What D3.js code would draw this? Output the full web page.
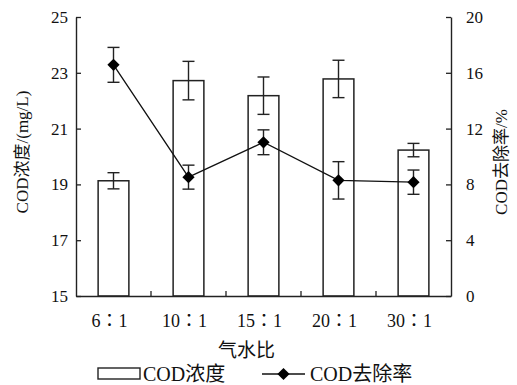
<!DOCTYPE html>
<html>
<head>
<meta charset="utf-8">
<script src="https://cdn.jsdelivr.net/npm/d3@7"></script>
<style>
  body { margin: 0; background: #fff; }
  svg text { font-family: "Liberation Serif", "Times New Roman", "Noto Sans CJK SC", serif; fill: #111; }
</style>
</head>
<body>
<script>
// data
var ratios = ["6：1", "10：1", "15：1", "20：1", "30：1"];
var codConc = [19.13, 22.72, 22.18, 22.78, 20.23];
var codConcErr = [0.29, 0.69, 0.67, 0.67, 0.24];
var codRemoval = [16.57, 8.52, 11.02, 8.29, 8.16];
var codRemovalErr = [1.25, 0.86, 0.89, 1.34, 0.87];
var leftTicks = [15, 17, 19, 21, 23, 25];
var rightTicks = [0, 4, 8, 12, 16, 20];

var margin = {top: 17, right: 66, bottom: 89, left: 76},
    width = 517 - margin.left - margin.right,
    height = 385 - margin.top - margin.bottom;

var svg = d3.select("body").append("svg")
    .attr("width", 517)
    .attr("height", 385)
  .append("g")
    .attr("transform", "translate(" + margin.left + "," + margin.top + ")");

var x = d3.scaleBand().domain(ratios).range([0, width]).padding(0);
var yL = d3.scaleLinear().domain([15, 25]).range([height, 0]);
var yR = d3.scaleLinear().domain([0, 20]).range([height, 0]);

var barW = x.bandwidth() * 0.41;
var cap = 6;

var data = ratios.map(function (r, i) {
  return {r: r, c: codConc[i], ce: codConcErr[i], p: codRemoval[i], pe: codRemovalErr[i]};
});

// bars
svg.selectAll(".bar")
    .data(data)
  .enter().append("rect")
    .attr("class", "bar")
    .attr("x", function (d) { return x(d.r) + x.bandwidth() / 2 - barW / 2; })
    .attr("y", function (d) { return yL(d.c); })
    .attr("width", barW)
    .attr("height", function (d) { return height - yL(d.c); })
    .style("fill", "#fff")
    .style("stroke", "#222")
    .style("stroke-width", 1.5);

function errBars(cls, scale, val, err) {
  var g = svg.selectAll("." + cls)
      .data(data)
    .enter().append("g")
      .attr("class", cls)
      .style("stroke", "#222")
      .style("stroke-width", 1.4);
  g.append("line")
      .attr("x1", function (d) { return x(d.r) + x.bandwidth() / 2; })
      .attr("x2", function (d) { return x(d.r) + x.bandwidth() / 2; })
      .attr("y1", function (d) { return scale(d[val] - d[err]); })
      .attr("y2", function (d) { return scale(d[val] + d[err]); });
  [1, -1].forEach(function (s) {
    g.append("line")
        .attr("x1", function (d) { return x(d.r) + x.bandwidth() / 2 - cap; })
        .attr("x2", function (d) { return x(d.r) + x.bandwidth() / 2 + cap; })
        .attr("y1", function (d) { return scale(d[val] + s * d[err]); })
        .attr("y2", function (d) { return scale(d[val] + s * d[err]); });
  });
}
errBars("errc", yL, "c", "ce");

// removal line
var line = d3.line()
    .x(function (d) { return x(d.r) + x.bandwidth() / 2; })
    .y(function (d) { return yR(d.p); });

svg.append("path")
    .datum(data)
    .attr("d", line)
    .style("fill", "none")
    .style("stroke", "#111")
    .style("stroke-width", 1.3);

errBars("errp", yR, "p", "pe");

var diamond = d3.symbol().type(d3.symbolDiamond2).size(95);
svg.selectAll(".pt")
    .data(data)
  .enter().append("path")
    .attr("class", "pt")
    .attr("d", diamond)
    .attr("transform", function (d) {
      return "translate(" + (x(d.r) + x.bandwidth() / 2) + "," + yR(d.p) + ")";
    })
    .style("fill", "#000");

// axes
var axL = svg.append("g")
    .call(d3.axisLeft(yL).tickValues(leftTicks).tickSizeInner(-5).tickSizeOuter(0).tickPadding(8));
var axR = svg.append("g")
    .attr("transform", "translate(" + width + ",0)")
    .call(d3.axisRight(yR).tickValues(rightTicks).tickSizeInner(-5).tickSizeOuter(0).tickPadding(15));
var axX = svg.append("g")
    .attr("transform", "translate(0," + height + ")")
    .call(d3.axisBottom(x).tickSize(0).tickPadding(18));

// category boundary ticks pointing up
svg.selectAll(".bt")
    .data(ratios.slice(1))
  .enter().append("line")
    .attr("x1", function (d) { return x(d); })
    .attr("x2", function (d) { return x(d); })
    .attr("y1", height)
    .attr("y2", height - 5)
    .style("stroke", "#222")
    .style("stroke-width", 1.3);

[axL, axR, axX].forEach(function (a) {
  a.selectAll(".domain").style("stroke", "#222").style("stroke-width", 1.4);
  a.selectAll(".tick line").style("stroke", "#222").style("stroke-width", 1.3);
  a.selectAll("text").style("font-size", "17px").style("fill", "#111")
      .style("font-family", "'Liberation Serif', 'Noto Sans CJK JP', serif");
});
axX.selectAll("text").style("font-size", "18px").attr("dx", -4);

// axis titles
svg.append("text")
    .attr("transform", "rotate(-90)")
    .attr("x", -135)
    .attr("y", -margin.left + 28)
    .style("text-anchor", "middle")
    .style("font-size", "17px")
    .text("COD浓度/(mg/L)");

svg.append("text")
    .attr("transform", "rotate(-90)")
    .attr("x", -145)
    .attr("y", width + 56)
    .style("text-anchor", "middle")
    .style("font-size", "17px")
    .text("COD去除率/%");

svg.append("text")
    .attr("x", width / 2 - 17)
    .attr("y", height + 61)
    .style("text-anchor", "middle")
    .style("font-size", "19px")
    .text("气水比");

// legend
var lg = svg.append("g").attr("transform", "translate(0," + (height + 78) + ")");
lg.append("rect")
    .attr("x", 22).attr("y", -6).attr("width", 42).attr("height", 11)
    .style("fill", "#fff").style("stroke", "#222").style("stroke-width", 1.4);
lg.append("text")
    .attr("x", 67).attr("y", 7)
    .style("font-size", "20px")
    .text("COD浓度");
lg.append("line")
    .attr("x1", 186).attr("x2", 229).attr("y1", 0).attr("y2", 0)
    .style("stroke", "#111").style("stroke-width", 1.3);
lg.append("path")
    .attr("d", diamond)
    .attr("transform", "translate(207.5,0)")
    .style("fill", "#000");
lg.append("text")
    .attr("x", 234).attr("y", 7)
    .style("font-size", "20px")
    .text("COD去除率");
</script>
</body>
</html>
